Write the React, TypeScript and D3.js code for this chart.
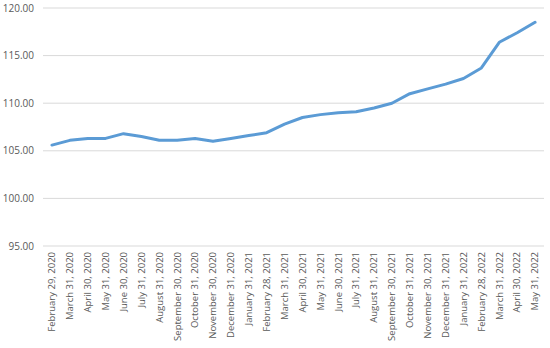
import React from "react";
import * as d3 from "d3";

const dates = [
  "February 29, 2020", "March 31, 2020", "April 30, 2020", "May 31, 2020", "June 30, 2020",
  "July 31, 2020", "August 31, 2020", "September 30, 2020", "October 31, 2020", "November 30, 2020",
  "December 31, 2020", "January 31, 2021", "February 28, 2021", "March 31, 2021", "April 30, 2021",
  "May 31, 2021", "June 30, 2021", "July 31, 2021", "August 31, 2021", "September 30, 2021",
  "October 31, 2021", "November 30, 2021", "December 31, 2021", "January 31, 2022", "February 28, 2022",
  "March 31, 2022", "April 30, 2022", "May 31, 2022",
];
const values = [
  105.6, 106.1, 106.3, 106.3, 106.8, 106.5, 106.1, 106.1, 106.3, 106.0,
  106.3, 106.6, 106.9, 107.8, 108.5, 108.8, 109.0, 109.1, 109.5, 110.0,
  111.0, 111.5, 112.0, 112.6, 113.7, 116.4, 117.4, 118.5,
];
const yTicks = [95, 100, 105, 110, 115, 120];

const W = 550;
const H = 348;
const left = 43;
const right = 544;
const top = 8;
const bottom = 246;

const App = () => {
  const x = d3.scaleBand<string>().domain(dates).range([left, right]);
  const y = d3.scaleLinear().domain([95, 120]).range([bottom, top]);
  const line = d3
    .line<number>()
    .x((_, i) => (x(dates[i]) as number) + x.bandwidth() / 2)
    .y((d) => y(d));

  return (
    <svg width={W} height={H} style={{ position: "absolute", left: 0, top: 0, fontFamily: "'Open Sans', sans-serif" }}>
      <rect width={W} height={H} fill="#fff" />
      {yTicks.map((t) => (
        <g key={t}>
          <line x1={left} x2={right} y1={y(t)} y2={y(t)} stroke="#d9d9d9" strokeWidth={1} />
          <text x={34} y={y(t)} dy="0.35em" textAnchor="end" fontSize={10} fill="#595959">
            {t.toFixed(2)}
          </text>
        </g>
      ))}
      {dates.map((d) => {
        const cx = (x(d) as number) + x.bandwidth() / 2;
        return (
          <text
            key={d}
            transform={`translate(${cx},${bottom + 6}) rotate(-90)`}
            textAnchor="end"
            dy="0.35em"
            fontSize={9.5}
            fill="#595959"
          >
            {d}
          </text>
        );
      })}
      <path d={line(values) ?? ""} fill="none" stroke="#5b9bd5" strokeWidth={3} strokeLinejoin="round" strokeLinecap="round" />
    </svg>
  );
};

export default App;
